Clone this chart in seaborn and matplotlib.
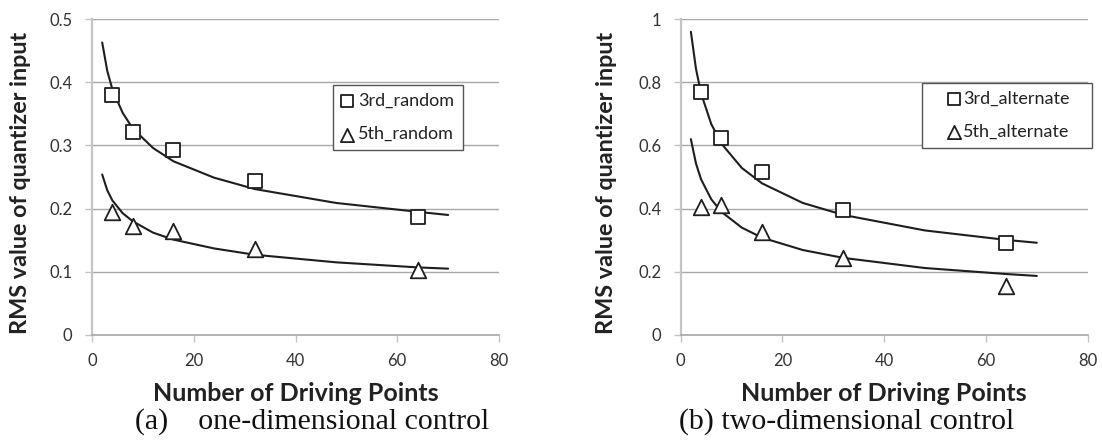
import numpy as np
import pandas as pd
import matplotlib
matplotlib.use("Agg")
from matplotlib import pyplot as plt
import seaborn as sns

points = [4, 8, 16, 32, 64]
third_random = [0.380, 0.321, 0.293, 0.243, 0.186]
fifth_random = [0.194, 0.173, 0.164, 0.136, 0.103]
third_alternate = [0.769, 0.625, 0.515, 0.397, 0.291]
fifth_alternate = [0.406, 0.413, 0.326, 0.245, 0.155]

# trend curves, also at these x positions
trend_x = [2, 3, 4, 6, 8, 12, 16, 24, 32, 48, 64, 70]
trend_3rd_random = [0.463, 0.418, 0.389, 0.352, 0.327, 0.296, 0.275, 0.249, 0.231, 0.209, 0.195, 0.190]
trend_5th_random = [0.254, 0.229, 0.213, 0.193, 0.180, 0.162, 0.151, 0.137, 0.127, 0.115, 0.107, 0.105]
trend_3rd_alternate = [0.960, 0.843, 0.765, 0.668, 0.606, 0.529, 0.480, 0.418, 0.380, 0.331, 0.301, 0.292]
trend_5th_alternate = [0.620, 0.543, 0.493, 0.430, 0.390, 0.340, 0.308, 0.269, 0.244, 0.212, 0.193, 0.187]

sns.set_style("white")
plt.rcParams['font.family'] = ['Lato', 'DejaVu Sans']

GRID = '#a8a8a8'
SPINE = '#c4c4c4'
INK = '#1e1e1e'


def panel(ax, s1, s2, t1, t2, names, ymax, ystep, ylab_x):
    for t in (t1, t2):
        sns.lineplot(x=trend_x, y=t, ax=ax, color=INK, linewidth=1.5,
                     legend=False)
    sq = pd.DataFrame({'x': points, 'y': s1})
    tr = pd.DataFrame({'x': points, 'y': s2})
    h1 = ax.scatter(sq.x, sq.y, marker='s', s=105, facecolor='white',
                    edgecolor=INK, linewidth=1.3, zorder=3, label=names[0])
    h2 = ax.scatter(tr.x, tr.y, marker='^', s=125, facecolor='white',
                    edgecolor=INK, linewidth=1.3, zorder=3, label=names[1])
    ax.set_xlim(0, 80)
    ax.set_ylim(0, ymax)
    ax.set_xticks(np.arange(0, 81, 20))
    yt = np.round(np.arange(0, ymax + 1e-9, ystep), 2)
    ax.set_yticks(yt)
    ax.set_yticklabels(['%g' % v for v in yt])
    ax.yaxis.grid(True, color=GRID, linewidth=1)
    ax.xaxis.grid(False)
    for s in ('top', 'right'):
        ax.spines[s].set_visible(False)
    ax.spines['left'].set_color(SPINE)
    ax.spines['left'].set_linewidth(1.6)
    ax.spines['bottom'].set_color(GRID)
    ax.spines['bottom'].set_linewidth(1.2)
    ax.tick_params(axis='both', which='major', length=5, width=1, color=SPINE,
                   labelsize=12, labelcolor='#333333', direction='out',
                   left=True, bottom=True)
    ax.tick_params(axis='x', pad=8)
    ax.tick_params(axis='y', pad=9)
    ax.set_xlabel('Number of Driving Points', fontsize=18, fontweight='bold',
                  labelpad=9, color='#222222')
    ax.set_ylabel('RMS value of quantizer input', fontsize=16.8,
                  fontweight='bold', color='#222222')
    ax.yaxis.set_label_coords(ylab_x, 0.48)
    return [h1, h2]


fig = plt.figure(figsize=(11.02, 4.41), dpi=100)
ax1 = fig.add_axes([0.0835, 0.2404, 0.3693, 0.7162])
ax2 = fig.add_axes([0.6177, 0.2404, 0.3693, 0.7162])

hs1 = panel(ax1, third_random, fifth_random, trend_3rd_random, trend_5th_random,
            ['3rd_random', '5th_random'], 0.5, 0.1, -0.15)
hs2 = panel(ax2, third_alternate, fifth_alternate, trend_3rd_alternate,
            trend_5th_alternate, ['3rd_alternate', '5th_alternate'], 1.0, 0.2,
            -0.157)

common = dict(loc='upper left', bbox_transform=fig.transFigure, fancybox=False,
              frameon=True, edgecolor='#555555', fontsize=13, markerscale=0.85,
              labelspacing=0.95, borderpad=0.45, borderaxespad=0,
              scatterpoints=1, framealpha=1)
leg1 = ax1.legend(handles=hs1, bbox_to_anchor=(0.3022, 0.8073),
                  handlelength=0.7, handletextpad=0.26, **common)
# excel leaves a wide empty margin round the entries in this legend box
leg2 = ax2.legend(handles=hs2, bbox_to_anchor=(0.8370, 0.6660, 0.1543, 0.1465),
                  mode='expand', handlelength=2.6, handletextpad=-0.79,
                  **common)
for leg in (leg1, leg2):
    leg.get_frame().set_linewidth(1.0)
    for t in leg.get_texts():
        t.set_color('#222222')

fig.text(0.1225, 0.028, '(a)    one-dimensional control', fontsize=21.5,
         family='Liberation Serif', color='#111111', va='baseline')
fig.text(0.6164, 0.028, '(b) two-dimensional control', fontsize=21.5,
         family='Liberation Serif', color='#111111', va='baseline')

fig.savefig('out.png', dpi=100)
